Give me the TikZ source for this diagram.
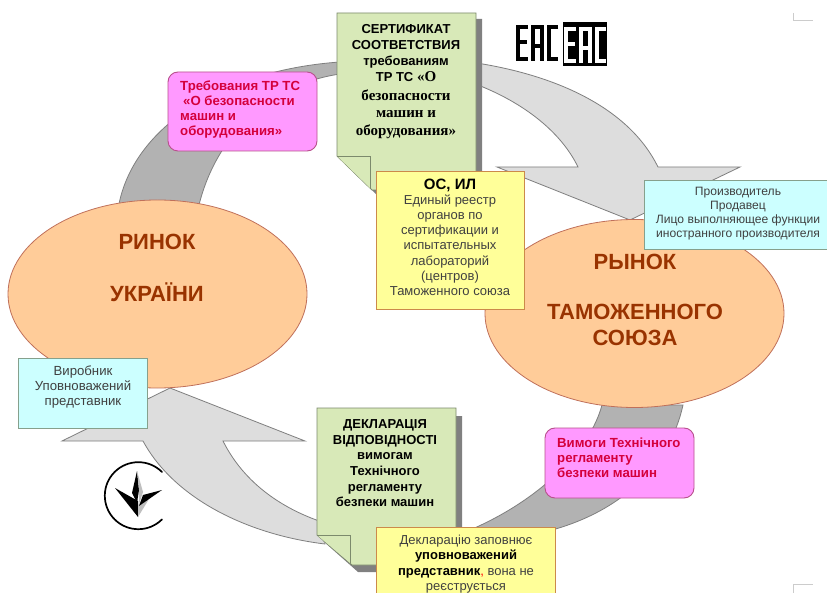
\documentclass[tikz,border=0pt]{standalone}
\usepackage{fontspec}
\setmainfont{Liberation Sans}
\newfontfamily\serifcyr{Liberation Serif}
\definecolor{arcdark}{HTML}{B2B2B2}
\definecolor{arclight}{HTML}{DDDDDD}
\definecolor{arcline}{HTML}{7F7F7F}
\definecolor{peach}{HTML}{FFCC99}
\definecolor{peachline}{HTML}{C0705A}
\definecolor{brownred}{HTML}{993300}
\definecolor{docfill}{HTML}{D8E9B8}
\definecolor{docline}{HTML}{7C8A6C}
\definecolor{docshadow}{HTML}{808080}
\definecolor{noteyellow}{HTML}{FFFF99}
\definecolor{noteline}{HTML}{CC8A4A}
\definecolor{cyanfill}{HTML}{CCFFFF}
\definecolor{cyanline}{HTML}{86A08C}
\definecolor{pinkfill}{HTML}{FF99FF}
\definecolor{pinkline}{HTML}{B8508C}
\definecolor{redtext}{HTML}{D4003C}
\definecolor{softtext}{HTML}{404040}
\definecolor{cornermark}{HTML}{CCCCCC}
\tikzset{
  x=1pt,y=-1pt,
  arcband/.style={draw=arcline,line width=0.8pt,fill=arcdark},
  lightarrow/.style={draw=arcline,line width=0.8pt,fill=arclight},
  market/.style={ellipse,draw=peachline,line width=0.8pt,fill=peach,inner sep=0pt},
  markettext/.style={align=center,text=brownred,inner sep=0pt,font=\fontsize{22}{26}\selectfont\bfseries},
  docbody/.style={draw=docline,line width=0.9pt,fill=docfill},
  docshade/.style={fill=docshadow},
  doctext/.style={align=center,inner sep=0pt,text=black,font=\fontsize{13}{15.6}\selectfont\bfseries},
  notebox/.style={rectangle,draw=noteline,line width=0.9pt,fill=noteyellow,inner sep=0pt},
  notetext/.style={align=center,inner sep=0pt,text=softtext,font=\fontsize{13}{15.2}\selectfont},
  whobox/.style={rectangle,draw=cyanline,line width=0.9pt,fill=cyanfill,inner sep=0pt},
  whotext/.style={align=center,inner sep=0pt,text=softtext,font=\fontsize{12.1}{14}\selectfont},
  rulebox/.style={rectangle,rounded corners=10pt,draw=pinkline,line width=0.9pt,fill=pinkfill,inner sep=0pt},
  ruletext/.style={align=left,inner sep=0pt,text=redtext,font=\fontsize{13.2}{15}\selectfont\bfseries},
  corner/.style={draw=cornermark,line width=1pt}
}
\usetikzlibrary{shapes.geometric}
\newcommand{\eacletters}[2]{%
  \draw[draw=#1,line width=#2,miter limit=10] (12,2) -- (2,2) -- (2,34) -- (12,34) (2,17) -- (11,17);
  \draw[draw=#1,line width=#2,miter limit=10] (17,36) -- (17,2) -- (26,2) -- (26,36) (17,21) -- (26,21);
  \draw[draw=#1,line width=#2,miter limit=10] (42,2) -- (33,2) -- (33,34) -- (42,34);
}
\begin{document}
\begin{tikzpicture}
\useasboundingbox (0,0) rectangle (827,593);
\clip (0,0) rectangle (827,593);
\fill[white] (0,0) rectangle (827,593);

% corner marks
\draw[corner] (793,13) -- (793,21) -- (813,21);
\draw[corner] (793,593) -- (793,584) -- (813,584);

% dark bands
\draw[arcband] (119,204) .. controls (135,125) and (225,70) .. (340,62) -- (340,74) .. controls (265,85) and (215,140) .. (199,205) -- cycle;
\draw[arcband] (683,405) .. controls (670,465) and (620,515) .. (540,533) -- (470,530) .. controls (540,500) and (590,450) .. (602,405) -- cycle;

% light arrows
\draw[lightarrow] (470,62) .. controls (560,75) and (630,110) .. (658,167) -- (740,167) -- (630,220) -- (497,167) -- (578,167) .. controls (560,130) and (520,100) .. (470,82) -- cycle;
\draw[lightarrow] (325,544) .. controls (250,535) and (175,500) .. (143,441) -- (62,441) -- (170,388) -- (305,441) -- (223,441) .. controls (245,485) and (285,510) .. (325,523) -- cycle;

% markets
\node[market,minimum width=299pt,minimum height=188pt] (ua) at (157.5,294) {};
\node[market,minimum width=299pt,minimum height=188pt] (ts) at (634.5,313.5) {};
\node[markettext] (uatext) at (157,268) {РИНОК\\[0pt]\mbox{}\\УКРАЇНИ};
\node[markettext] (tstext) at (635,300) {РЫНОК\\\mbox{}\\[-2pt]ТАМОЖЕННОГО\\СОЮЗА};

% certificate page
\fill[docshade] (343,19) -- (482,19) -- (482,196) -- (378,196) -- (343,162) -- cycle;
\draw[docbody] (337,13) -- (476,13) -- (476,190) -- (372,190) -- (337,156) -- cycle;
\draw[docbody] (337,156) -- (370,156) -- (370,188);
\node[doctext,anchor=north] (cert) at (406,24) {СЕРТИФИКАТ\\[0.5pt]СООТВЕТСТВИЯ\\[0.5pt]требованиям\\[0.5pt]ТР ТС {\serifcyr\fontsize{15}{16}\selectfont «О}\\[3pt]{\serifcyr\fontsize{15}{18}\selectfont безопасности}\\[2pt]{\serifcyr\fontsize{15}{18}\selectfont машин и}\\[2pt]{\serifcyr\fontsize{15}{18}\selectfont оборудования»}};

% declaration page
\fill[docshade] (323,416) -- (462,416) -- (462,572) -- (358,572) -- (323,541) -- cycle;
\draw[docbody] (317,408) -- (456,408) -- (456,565) -- (352,565) -- (317,535) -- cycle;
\draw[docbody] (317,535) -- (350,535) -- (350,563);
\node[doctext,anchor=north] (decl) at (385,419.5) {ДЕКЛАРАЦІЯ\\ВІДПОВІДНОСТІ\\вимогам\\Технічного\\регламенту\\безпеки машин};

% yellow notes
\node[notebox,minimum width=148pt,minimum height=138pt] (reg) at (450,240) {};
\node[notetext,anchor=north] (regtext) at (450,178.5) {{\fontsize{15}{15}\selectfont\bfseries\color{black}ОС, ИЛ}\\Единый реестр\\органов по\\сертификации и\\испытательных\\лабораторий\\(центров)\\Таможенного союза};
\node[notebox,minimum width=179pt,minimum height=80pt] (declnote) at (465.5,567) {};
\node[notetext,anchor=north] (declnotetext) at (466,535) {Декларацію заповнює\\{\bfseries\color{black}уповноважений}\\{\bfseries\color{black}представник}{\color{red},} вона не\\реєструється};

% who boxes
\node[whobox,minimum width=183pt,minimum height=69pt,anchor=north west] (tswho) at (644,180) {};
\node[whotext] (tswhotext) at (738,213.5) {Производитель\\Продавец\\Лицо выполняющее функции\\иностранного производителя};
\node[whobox,minimum width=129pt,minimum height=70pt] (uawho) at (82.5,393) {};
\node[whotext,font=\fontsize{13.2}{15}\selectfont] (uawhotext) at (83,387) {Виробник\\Уповноважений\\представник};

% rule boxes
\node[rulebox,minimum width=149pt,minimum height=79pt] (tsrule) at (242.5,111.5) {};
\node[ruletext,anchor=west] (tsruletext) at (180,109.5) {Требования ТР ТС\\\hspace{3pt}«О безопасности\\машин и\\оборудования»};
\node[rulebox,minimum width=149pt,minimum height=70pt] (uarule) at (619.5,463) {};
\node[ruletext,anchor=west] (uaruletext) at (557,458) {Вимоги Технічного\\регламенту\\безпеки машин};

% EAC marks
\begin{scope}[shift={(516,25)}]
\eacletters{black}{4.4pt}
\end{scope}
\fill[black] (563,22) rectangle (607,66);
\begin{scope}[shift={(564,27)}]
\eacletters{white}{3.2pt}
\end{scope}

% Ukrainian conformity mark
\draw[black,line width=1.7pt,line cap=round] (162,472) arc[start angle=45,end angle=315,radius=33.5pt];
\fill[black] (137,471) -- (132,493) -- (137,503) -- (139,490) -- cycle;
\fill[black!25] (137,471) -- (143,492) -- (139,504) -- (139,490) -- cycle;
\fill[black] (115,488) -- (138,501) -- (138,517) -- cycle;
\fill[black!25] (138,517) -- (138,505) -- (146,497) -- (149,499) -- cycle;
\fill[black] (162,490) -- (143,495) -- (139,506) -- cycle;
\end{tikzpicture}
\end{document}
